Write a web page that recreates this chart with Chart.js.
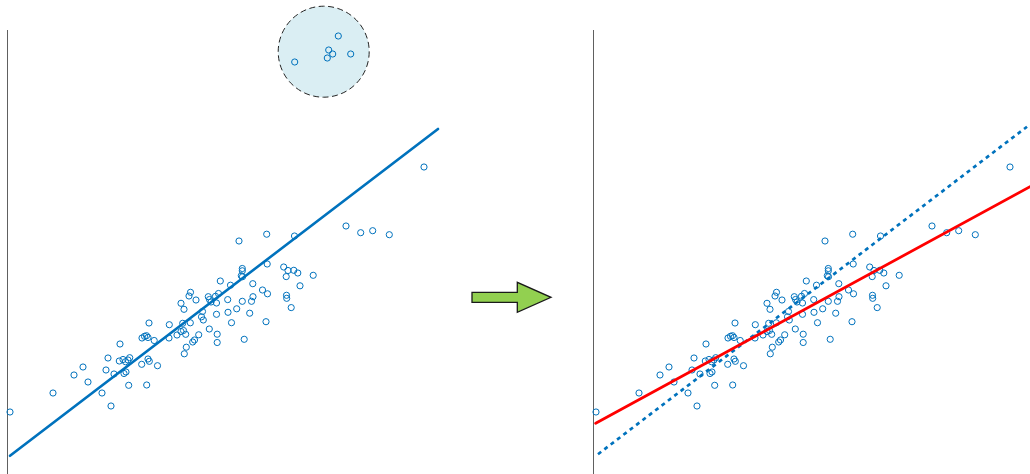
<!DOCTYPE html>
<html>
<head>
<meta charset="utf-8">
<script src="https://cdn.jsdelivr.net/npm/chart.js@4.4.1/dist/chart.umd.min.js"></script>
<style>
  body { margin: 0; background: #fff; }
  #wrap { position: relative; width: 1030px; height: 474px; overflow: hidden; }
  canvas { position: absolute; top: 0; }
  #leftChart { left: 0; }
  #rightChart { left: 586px; }
  #arrow { position: absolute; left: 0; top: 0; }
</style>
</head>
<body>
<div id="wrap">
  <canvas id="leftChart" width="444" height="474"></canvas>
  <svg id="arrow" width="1030" height="474">
    <polygon points="472,292.3 517.3,292.3 517.3,282.3 551,297.3 517.3,312.3 517.3,302.3 472,302.3"
      fill="#92d050" stroke="#1a1a1a" stroke-width="1.3" stroke-linejoin="miter"/>
  </svg>
  <canvas id="rightChart" width="444" height="474"></canvas>
</div>
<script>
// main cloud of observations
const inlierX = [3, 46, 67, 76, 81, 95, 104, 99, 101, 107, 113, 112.3, 116, 118.5, 121, 122.7, 117, 119, 121.7,
  134.7, 139.7, 141, 142.3, 150.5, 135, 137.5, 139.5, 141, 147.2, 142, 162.3, 162, 170, 174, 176.5, 178.7,
  175.7, 183.3, 177.3, 179.3, 185.7, 187.5, 191.7, 194.5, 196.3, 202.3, 210.2, 210.2, 224.5, 237.2, 259,
  195.5, 209.5, 221, 229.7, 242.7, 174, 177, 183.5, 182, 189, 201.3, 202.5, 208.5, 211.5, 204, 209.5, 220.7,
  235.3, 244.5, 213.3, 223.5, 232, 259.7, 287.5, 235.3, 235.3, 234.3, 235.5, 260.2, 276.7, 281, 286.8, 290.8,
  279.2, 306.2, 293, 279.5, 279.7, 284.2, 255.5, 260.5, 245.8, 246, 417, 339, 353.7, 365.7, 382.3];
const inlierY = [62, 81, 99, 107, 92, 81, 68, 104, 116, 100, 130, 113, 114.5, 112.3, 114, 116.3, 100.5, 102, 88.7,
  109.7, 89, 115, 112.7, 108.3, 136, 137.7, 138.3, 136.5, 133.5, 151, 149.3, 136, 139, 142.5, 143.5, 139.7,
  150.7, 151.2, 120.2, 126.8, 132, 134, 139.2, 157.2, 154, 145, 139.8, 131.5, 151.3, 134.7, 152.3,
  162.5, 159.7, 161.7, 165.2, 160.8, 170.7, 164.7, 181.7, 178, 174, 177.3, 174.5, 177.7, 180.5, 172, 171, 174.4,
  172.7, 172.7, 193, 188.8, 233, 239.8, 238, 205.5, 203.2, 198.3, 197.3, 210, 207, 203.5, 203.7, 201,
  197.4, 198.7, 188.2, 178.7, 175.7, 166.4, 184, 180.2, 190.3, 177.3, 307, 248, 241.3, 243.3, 239.3];

// the group far above the trend
const outlierX = [287.7, 331.3, 321.7, 325.7, 320.3, 343.7];
const outlierY = [412, 438, 424, 420, 416, 420];

// least squares fit (all points) and robust fit (outliers dropped)
const lsLeftX = [3, 431];
const lsLeftY = [18.3, 345];
const lsRightX = [5, 434];
const lsRightY = [19.8, 347.3];
const robustX = [2.7, 437];
const robustY = [50.7, 287.3];

const BLUE = '#0072bd';

const toPoints = (xs, ys) => xs.map((x, i) => ({x: x, y: ys[i]}));

// shaded ring around the outlier group
const outlierRing = {cx: 316.7, cy: 422.3, r: 45.5};

const ringPlugin = {
  id: 'ringPlugin',
  beforeDatasetsDraw(chart) {
    const {ctx, scales} = chart;
    const cx = scales.x.getPixelForValue(outlierRing.cx);
    const cy = scales.y.getPixelForValue(outlierRing.cy);
    const r = scales.x.getPixelForValue(outlierRing.r) - scales.x.getPixelForValue(0);
    ctx.save();
    ctx.beginPath();
    ctx.arc(cx, cy, r, 0, Math.PI * 2);
    ctx.fillStyle = '#daeef3';
    ctx.fill();
    ctx.setLineDash([6, 3.5]);
    ctx.lineWidth = 1;
    ctx.strokeStyle = '#222';
    ctx.stroke();
    ctx.restore();
  }
};

function scatterSet(points) {
  return {
    type: 'scatter',
    data: points,
    showLine: false,
    pointStyle: 'circle',
    pointRadius: 3.1,
    pointBorderWidth: 1,
    pointBorderColor: BLUE,
    pointBackgroundColor: 'rgba(0,0,0,0)',
    clip: false
  };
}

function lineSet(points, color, width, dash) {
  return {
    type: 'line',
    data: points,
    borderColor: color,
    borderWidth: width,
    borderDash: dash,
    borderCapStyle: dash.length ? 'butt' : 'round',
    pointRadius: 0,
    fill: false,
    tension: 0
  };
}

function panelOptions() {
  return {
    responsive: false,
    animation: false,
    devicePixelRatio: 1,
    layout: {autoPadding: false, padding: {left: 7, top: 30, right: 0, bottom: 0}},
    plugins: {legend: {display: false}, tooltip: {enabled: false}},
    scales: {
      x: {type: 'linear', min: 0, max: 437, display: false},
      y: {
        type: 'linear', min: 0, max: 444,
        grid: {display: false, drawTicks: false},
        ticks: {display: false},
        border: {display: true, color: '#606060', width: 1}
      }
    }
  };
}

new Chart(document.getElementById('leftChart'), {
  type: 'scatter',
  data: {
    datasets: [
      lineSet(toPoints(lsLeftX, lsLeftY), BLUE, 2.7, []),
      scatterSet(toPoints(inlierX, inlierY)),
      scatterSet(toPoints(outlierX, outlierY))
    ]
  },
  options: panelOptions(),
  plugins: [ringPlugin]
});

new Chart(document.getElementById('rightChart'), {
  type: 'scatter',
  data: {
    datasets: [
      lineSet(toPoints(robustX, robustY), '#ff0000', 2.8, []),
      lineSet(toPoints(lsRightX, lsRightY), BLUE, 2.7, [4, 4]),
      scatterSet(toPoints(inlierX, inlierY))
    ]
  },
  options: panelOptions()
});
</script>
</body>
</html>
